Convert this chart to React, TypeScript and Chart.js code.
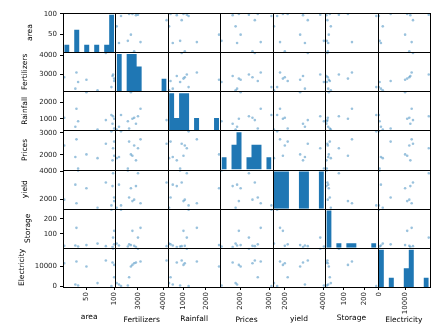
import React, { useEffect, useRef } from "react";
import { Chart, registerables } from "chart.js";

Chart.register(...registerables);

// ---- data ----
const columns = ["area", "Fertilizers", "Rainfall", "Prices", "yield", "Storage", "Electricity"];

const area = [10, 30, 32, 35, 50, 70, 85, 95, 97, 98, 100, 100];
const fertilizers = [2850, 2250, 3100, 2600, 2720, 2159, 4130, 2330, 2920, 3000, 2650, 2780];
const rainfall = [1060, 520, 1600, 850, 2594, 356, 920, 1230, 700, 1150, 420, 1000];
const prices = [2420, 1900, 2700, 1374, 2020, 1850, 2500, 3063, 1750, 2300, 2600, 1960];
const yieldValues = [2000, 3050, 1750, 4040, 2800, 1433, 3200, 1600, 2950, 3850, 2150, 1900];
const storage = [20, 22, 140, 15, 25, 35, 18, 261, 13, 75, 30, 120];
const electricity = [11600, 800, 12500, 300, 10000, 1500, 13000, 0, 12000, 19000, 4500, 10800];

const areaTicks = [50, 100];
const fertilizersTicks = [3000, 4000];
const rainfallTicks = [1000, 2000];
const pricesTicks = [2000, 3000];
const yieldTicks = [2000, 4000];
const storageTicks = [100, 200];
const electricityTicks = [0, 10000];

const series = [area, fertilizers, rainfall, prices, yieldValues, storage, electricity];
const tickSets = [areaTicks, fertilizersTicks, rainfallTicks, pricesTicks, yieldTicks, storageTicks, electricityTicks];

// ---- style ----
const BINS = 10;
const RANGE_PAD = 0.05;
const FAMILY = "'DejaVu Sans', sans-serif";
const BLUE = "#1f77b4";
const POINT = "rgba(31,119,180,0.45)";
const yTitlePad = [26, 21, 21, 21, 21, 24, 18];
const xTitlePad = [3, 0.5, 1.5, 0.5, 1.5, 2, 0];

function bounds(v: number[]): [number, number] {
  const mn = Math.min(...v);
  const mx = Math.max(...v);
  const ext = ((mx - mn) * RANGE_PAD) / 2;
  return [mn - ext, mx + ext];
}

// histogram silhouette (bin edges and counts) computed from the data
function histogram(v: number[]) {
  const mn = Math.min(...v);
  const mx = Math.max(...v);
  const w = (mx - mn) / BINS;
  const counts = new Array(BINS).fill(0);
  v.forEach((val) => {
    const k = Math.min(BINS - 1, Math.floor((val - mn) / w));
    counts[k] += 1;
  });
  return counts.map((c, k) => ({ x0: mn + k * w, x1: mn + (k + 1) * w, count: c }));
}

const framePlugin = {
  id: "panelFrames",
  afterDatasetsDraw(chart: any) {
    const ctx = chart.ctx;
    ctx.save();
    ctx.strokeStyle = "#000";
    ctx.lineWidth = 1;
    for (let i = 0; i < columns.length; i++) {
      for (let j = 0; j < columns.length; j++) {
        const xs = chart.scales["x" + j];
        const ys = chart.scales["y" + i];
        const l = Math.round(xs.left);
        const r = Math.round(xs.right);
        const t = Math.round(ys.top);
        const b = Math.round(ys.bottom);
        ctx.strokeRect(l + 0.5, t + 0.5, r - l, b - t);
      }
    }
    ctx.restore();
  },
};

export default function App() {
  const ref = useRef<HTMLCanvasElement | null>(null);

  useEffect(() => {
    if (!ref.current) return;
    const n = columns.length;
    const bnds = series.map(bounds);
    const datasets: any[] = [];
    for (let i = 0; i < n; i++) {
      for (let j = 0; j < n; j++) {
        if (i === j) {
          const hist = histogram(series[i]);
          const maxC = Math.max(...hist.map((h) => h.count));
          const [lo, hi] = bnds[i];
          const pts: { x: number; y: number }[] = [{ x: hist[0].x0, y: lo }];
          hist.forEach((h) => {
            const top = lo + (h.count / (maxC * 1.05)) * (hi - lo);
            pts.push({ x: h.x0, y: top });
            pts.push({ x: h.x1, y: top });
          });
          pts.push({ x: hist[hist.length - 1].x1, y: lo });
          datasets.push({
            type: "line",
            xAxisID: "x" + j,
            yAxisID: "y" + i,
            data: pts,
            parsing: false,
            fill: { value: lo },
            backgroundColor: BLUE,
            borderColor: BLUE,
            borderWidth: 0,
            pointRadius: 0,
            tension: 0,
          });
        } else {
          datasets.push({
            type: "scatter",
            xAxisID: "x" + j,
            yAxisID: "y" + i,
            data: series[j].map((xv, k) => ({ x: xv, y: series[i][k] })),
            pointRadius: 1.3,
            pointBackgroundColor: POINT,
            pointBorderWidth: 0,
            showLine: false,
          });
        }
      }
    }

    const scales: any = {};
    for (let j = 0; j < n; j++) {
      const ticksV = tickSets[j];
      scales["x" + j] = {
        type: "linear",
        axis: "x",
        position: "bottom",
        stack: "xs",
        stackWeight: 1,
        min: bnds[j][0],
        max: bnds[j][1],
        bounds: "data",
        offset: false,
        beginAtZero: false,
        grid: { display: true, drawOnChartArea: false, drawTicks: true, tickLength: 3, color: "#000", offset: false },
        border: { display: false },
        ticks: {
          autoSkip: false,
          minRotation: 90,
          maxRotation: 90,
          padding: 2,
          color: "#222",
          font: { size: 7, family: FAMILY },
          callback: (v: any) => String(v),
        },
        title: {
          display: true,
          text: columns[j],
          color: "#000",
          font: { size: 7.5, family: FAMILY },
          padding: { top: 0, bottom: xTitlePad[j] },
        },
        afterBuildTicks: (s: any) => {
          s.ticks = ticksV.map((v) => ({ value: v }));
        },
        afterFit: (s: any) => {
          s.height = 38;
          s.paddingLeft = 0;
          s.paddingRight = 0;
        },
      };
    }
    for (let i = n - 1; i >= 0; i--) {
      const ticksV = tickSets[i];
      scales["y" + i] = {
        type: "linear",
        axis: "y",
        position: "left",
        stack: "ys",
        stackWeight: 1,
        min: bnds[i][0],
        max: bnds[i][1],
        bounds: "data",
        beginAtZero: false,
        grid: { display: true, drawOnChartArea: false, drawTicks: true, tickLength: 3, color: "#000" },
        border: { display: false },
        ticks: {
          autoSkip: false,
          padding: 3,
          color: "#222",
          font: { size: 7, family: FAMILY },
          callback: (v: any) => String(v),
        },
        title: {
          display: true,
          text: columns[i],
          color: "#000",
          font: { size: 7.5, family: FAMILY },
          padding: { top: yTitlePad[i], bottom: 0 },
        },
        afterBuildTicks: (s: any) => {
          s.ticks = ticksV.map((v) => ({ value: v }));
        },
        afterFit: (s: any) => {
          s.width = 63;
          s.paddingTop = 0;
          s.paddingBottom = 0;
        },
      };
    }

    const chart = new Chart(ref.current, {
      type: "scatter",
      data: { datasets },
      options: {
        animation: false,
        responsive: false,
        maintainAspectRatio: false,
        layout: { padding: { top: 13, left: 0, right: 0, bottom: 0 } },
        plugins: { legend: { display: false }, tooltip: { enabled: false } },
        scales,
      },
      plugins: [framePlugin],
    } as any);
    return () => chart.destroy();
  }, []);

  return (
    <div style={{ position: "fixed", left: 0, top: 0, width: 434, height: 325, background: "#fff" }}>
      <canvas ref={ref} width={434} height={325} style={{ display: "block" }} />
    </div>
  );
}
